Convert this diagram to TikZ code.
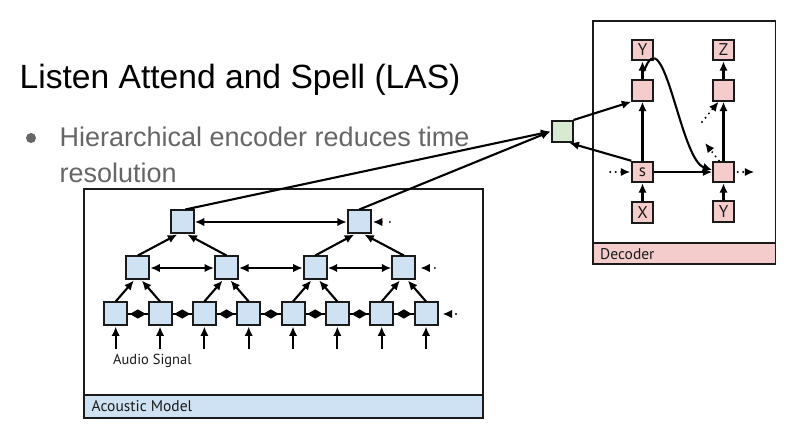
\documentclass[tikz,border=0pt]{standalone}
\usepackage{fontspec}
\setmainfont{Liberation Sans}
\newfontfamily\boxfont{PT Sans}
\usetikzlibrary{arrows.meta,calc}
\definecolor{blueF}{HTML}{CFE2F3}
\definecolor{pinkF}{HTML}{F4CCCC}
\definecolor{greenF}{HTML}{D9EAD3}
\definecolor{txtgray}{HTML}{666666}
\definecolor{edgec}{HTML}{1A1A1A}
\begin{document}
\begin{tikzpicture}[x=1pt,y=1pt,
  blk/.style={draw=edgec, line width=2pt, inner sep=0pt, font=\boxfont\fontsize{17}{17}\selectfont, text=edgec},
  ablk/.style={blk, fill=blueF, minimum size=23pt},
  dblk/.style={blk, fill=pinkF, minimum size=20.5pt},
  gblk/.style={blk, fill=greenF, minimum size=21pt},
  container/.style={draw=edgec, line width=1.8pt, fill=white, inner sep=0pt},
  band/.style={draw=edgec, line width=1.8pt, inner sep=0pt},
  lbl/.style={inner sep=0pt, text=edgec, font=\boxfont\fontsize{15.5}{15.5}\selectfont},
  arr/.style={draw=black, line width=2.1pt, -{Latex[length=9.5pt,width=8.5pt]}},
  darr/.style={draw=black, line width=2.1pt, {Latex[length=9.5pt,width=8.5pt]}-{Latex[length=9.5pt,width=8.5pt]}},
  dotarr/.style={draw=black, line width=2.1pt, line cap=round, dash pattern=on 0pt off 5.5pt, -{Latex[length=9.5pt,width=8.5pt]}},
  sparsedot/.style={dotarr, dash pattern=on 0pt off 8pt}
]
\useasboundingbox (0,0) rectangle (793,-427);
\fill[white] (0,0) rectangle (793,-427);

% slide text
\node[anchor=base west, inner sep=0pt, font=\fontsize{33.6}{40}\selectfont] (title) at (19.5,-88.3) {Listen Attend and Spell (LAS)};
\node[circle, fill=txtgray, minimum size=10pt, inner sep=0pt] (bullet) at (31,-138) {};
\node[anchor=base west, inner sep=0pt, text=txtgray, font=\fontsize{27}{35}\selectfont] (line1) at (59.5,-146.7) {Hierarchical encoder reduces time};
\node[anchor=base west, inner sep=0pt, text=txtgray, font=\fontsize{27}{35}\selectfont] (line2) at (59.5,-182.5) {resolution};

% containers
\node[container, anchor=north west, minimum width=399pt, minimum height=229pt] (am) at (83,-188) {};
\node[band, fill=blueF, anchor=south west, minimum width=399pt, minimum height=23pt] (amband) at (am.south west) {};
\node[lbl, anchor=west] (amlabel) at ($(amband.west)+(8.5,0)$) {Acoustic Model};

\node[container, anchor=north west, minimum width=182.5pt, minimum height=243pt] (dec) at (592,-20) {};
\node[band, fill=pinkF, anchor=south west, minimum width=182.5pt, minimum height=20.5pt] (decband) at (dec.south west) {};
\node[lbl, anchor=west] (declabel) at ($(decband.west)+(8,0)$) {Decoder};

% encoder nodes
\foreach \i in {1,...,8} {
  \node[ablk] (b\i) at ({115.7+44.33*(\i-1)},-314) {};
  \coordinate (in\i) at ($(b\i.south)+(0,-22.5)$);
  \draw[arr] (in\i) -- (b\i.south);
}
\foreach \j in {1,...,4} {
  \node[ablk] (m\j) at ({137.85+88.67*(\j-1)},-268) {};
}
\node[ablk] (t1) at (182.3,-222) {};
\node[ablk] (t2) at (359.3,-222) {};

\node[anchor=base west, lbl, font=\boxfont\fontsize{14.5}{14.5}\selectfont] (audio) at (113,-365) {Audio Signal};

% bottom row links (line with a diamond of back-to-back heads)
\foreach \i/\k in {1/2,2/3,3/4,4/5,5/6,6/7,7/8} {
  \draw[line width=2.1pt] (b\i.east) -- (b\k.west);
  \coordinate (mid\i) at ($(b\i.east)!0.5!(b\k.west)$);
  \fill[black] ($(mid\i)+(-8,0)$) -- ++(8,4.6) -- ++(8,-4.6) -- ++(-8,-4.6) -- cycle;
}
% pyramid
\foreach \a/\b/\m in {1/2/1,3/4/2,5/6/3,7/8/4} {
  \draw[arr] (b\a.north) -- ($(m\m.south)+(-4,0)$);
  \draw[arr] (b\b.north) -- ($(m\m.south)+(4,0)$);
}
\draw[arr] (m1.north) -- ($(t1.south)+(-5,0)$);
\draw[arr] (m2.north) -- ($(t1.south)+(5,0)$);
\draw[arr] (m3.north) -- ($(t2.south)+(-5,0)$);
\draw[arr] (m4.north) -- ($(t2.south)+(5,0)$);
\draw[darr] (t1.east) -- (t2.west);
\draw[darr] (m1.east) -- (m2.west);
\draw[darr] (m2.east) -- (m3.west);
\draw[darr] (m3.east) -- (m4.west);

% trailing dotted inputs
\coordinate (t2r) at ($(t2.east)+(18,0)$);
\coordinate (m4r) at ($(m4.east)+(18.5,0)$);
\coordinate (b8r) at ($(b8.east)+(17.5,0)$);
\draw[sparsedot, shorten >=1pt] (t2r) -- (t2.east);
\draw[sparsedot, shorten >=4pt] (m4r) -- (m4.east);
\draw[sparsedot, shorten >=4pt] (b8r) -- (b8.east);

% decoder nodes
\node[dblk] (y1) at (642.5,-50) {Y};
\node[dblk] (d1) at (642.5,-90.5) {};
\node[dblk] (s) at (642.5,-172) {s};
\node[dblk] (x) at (642.5,-212.5) {X};
\node[dblk] (z) at (723.5,-50) {Z};
\node[dblk] (d2) at (723.5,-90.5) {};
\node[dblk] (r) at (723.5,-172) {};
\node[dblk] (y2) at (723.5,-211.5) {Y};
\node[gblk] (g) at (562,-131.5) {};

\draw[arr] (d1.north) -- (y1.south);
\draw[arr] (s.north) -- (d1.south);
\draw[arr] (x.north) -- (s.south);
\draw[arr] (d2.north) -- (z.south);
\draw[arr] (r.north) -- (d2.south);
\draw[arr] (y2.north) -- (r.south);
\draw[arr] (s.east) -- (r.west);

\coordinate (sl) at ($(s.west)+(-21,0)$);
\draw[dotarr, shorten >=1pt] (sl) -- (s.west);
\coordinate (rr) at ($(r.east)+(19.5,0)$);
\draw[dotarr, shorten <=3pt] (r.east) -- (rr);
\coordinate (rd) at (705,-143);
\draw[dotarr] ($(r.north)+(-4.5,0)$) -- (rd);
\coordinate (du) at (702,-122);
\draw[dotarr] (du) -- ($(d2.south)+(-5,0)$);

\coordinate (cs) at ($(d1.north)!0.45!(y1.south)+(1.5,0)$);
\draw[arr] (cs) .. controls (664,-15) and (680,-160) .. ($(r.west)+(0,2)$);

% attention links
\draw[arr] (g.north east) -- (d1.south west);
\draw[arr] (s.north west) -- ($(g.south east)+(-4,0)$);
\draw[arr] ($(t1.north)+(3,0)$) -- (g.west);
\draw[arr] (t2.north) -- (g.west);
\end{tikzpicture}
\end{document}
